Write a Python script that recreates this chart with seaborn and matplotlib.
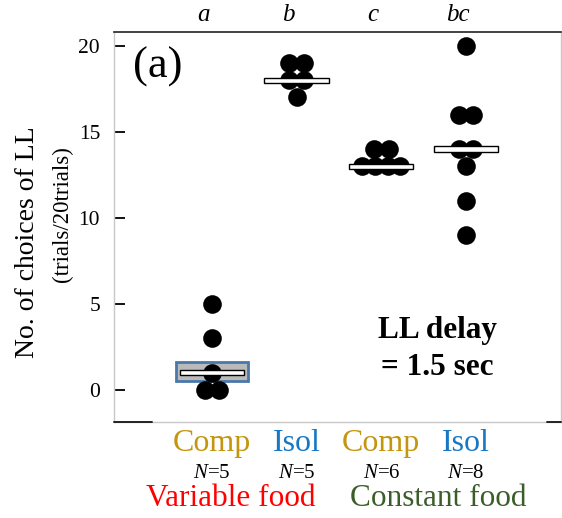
import numpy as np
import pandas as pd
import matplotlib
matplotlib.use("Agg")
import matplotlib.pyplot as plt
import seaborn as sns

# ---------------- data ----------------
categories = ["Comp", "Isol", "Comp", "Isol"]
cat_colors = ["#C4960E", "#1777C4", "#C4960E", "#1777C4"]
n_labels = ["5", "5", "6", "8"]
sig_letters = ["a", "b", "c", "bc"]
comp_variable = [5, 3, 1, 0, 0]
isol_variable = [19, 19, 18, 18, 17]
comp_constant = [14, 14, 13, 13, 13, 13]
isol_constant = [20, 16, 16, 14, 14, 13, 11, 9]
food_labels = ["Variable food", "Constant food"]
food_colors = ["#FF0000", "#3A5E28"]
box_group = [0]
box_low = [0.5]
box_high = [1.6]
yticks = [0, 5, 10, 15, 20]

groups = [comp_variable, isol_variable, comp_constant, isol_constant]

# ---------------- style ----------------
sns.set_theme(style="white")
plt.rcParams["font.family"] = ["Liberation Serif", "DejaVu Serif"]
plt.rcParams["text.color"] = "black"
plt.rcParams["ytick.color"] = "black"
plt.rcParams["ytick.labelcolor"] = "black"
plt.rcParams["mathtext.fontset"] = "custom"
plt.rcParams["mathtext.rm"] = "Liberation Serif"
plt.rcParams["mathtext.it"] = "Liberation Serif:italic"

# dot-plot layout: tied values spread symmetrically around the group centre
spacing = 0.175
rows = []
for gi, vals in enumerate(groups):
    vals = sorted(vals)
    for v in sorted(set(vals)):
        k = vals.count(v)
        sp = spacing if k <= 2 else spacing * 0.85
        for r in range(k):
            rows.append({"group": gi, "value": v,
                         "xpos": gi + (r - (k - 1) / 2) * sp})
df = pd.DataFrame(rows)
medians = [np.median(v) for v in groups]

fig = plt.figure(figsize=(5.62, 5.18), dpi=100)
ax = fig.add_axes([114 / 562, 1 - 421.7 / 518, 447 / 562, 390 / 518])

# interval box (group 0)
ax.bar(box_group, np.array(box_high) - np.array(box_low), bottom=box_low,
       width=0.84, color="#BABABA", edgecolor="#4A78AA", linewidth=2, zorder=2)

sns.scatterplot(data=df, x="xpos", y="value", color="black", s=180,
                linewidth=0, ax=ax, zorder=3, legend=False)

# median bars
ax.bar(range(len(groups)), 0.3, bottom=np.array(medians) - 0.15, width=0.76,
       color="white", edgecolor="black", linewidth=1, zorder=4)

ax.set_xlim(-1.157, 4.122)
ax.set_ylim(-1.84, 20.81)
ax.set_xticks([])
ax.set_yticks(yticks)
ax.set_yticklabels([str(t) for t in yticks], fontsize=15.5, color="black",
                   va="center_baseline")
ax.tick_params(axis="y", direction="in", length=8, width=1.3, color="black",
               pad=10, left=True)
ax.set_xlabel("")
ax.set_ylabel("")

for side in ["left", "right", "bottom"]:
    ax.spines[side].set_color("#C8C8C8")
    ax.spines[side].set_linewidth(1)
ax.spines["top"].set_color("#222222")
ax.spines["top"].set_linewidth(1.2)

# dark stubs on the bottom frame
ax.plot([0, 38 / 447], [0, 0], color="#222222", lw=1.4, transform=ax.transAxes,
        clip_on=False, zorder=5)
ax.plot([433 / 447, 1], [0, 0], color="#222222", lw=1.4, transform=ax.transAxes,
        clip_on=False, zorder=5)

trans = ax.get_xaxis_transform()
for i in range(len(groups)):
    ax.text(i - 0.1, 1.043, sig_letters[i], transform=trans, ha="center",
            va="center", fontsize=18, style="italic")
    ax.text(i, -0.057, categories[i], transform=trans, ha="center",
            va="center", fontsize=23, color=cat_colors[i])
    ax.text(i, -0.134, r"$N$=" + n_labels[i], transform=trans, ha="center",
            va="center", fontsize=15)
ax.text(0.22, -0.198, food_labels[0], transform=trans, ha="center",
        va="center", fontsize=22.5, color=food_colors[0])
ax.text(2.67, -0.198, food_labels[1], transform=trans, ha="center",
        va="center", fontsize=22.5, color=food_colors[1])

ax.text(0.098, 0.909, "(a)", transform=ax.transAxes, ha="center", va="center",
        fontsize=32)
ax.text(0.723, 0.235, "LL delay", transform=ax.transAxes, ha="center",
        va="center", fontsize=22.5, fontweight="bold")
ax.text(0.723, 0.140, "= 1.5 sec", transform=ax.transAxes, ha="center",
        va="center", fontsize=22.5, fontweight="bold")

fig.text(28 / 562, 1 - 242 / 518, "No. of choices of LL", rotation=90,
         ha="center", va="center", fontsize=20)
fig.text(62 / 562, 1 - 214 / 518, "(trials/20trials)", rotation=90,
         ha="center", va="center", fontsize=16.5)

fig.savefig("out.png", dpi=100)
